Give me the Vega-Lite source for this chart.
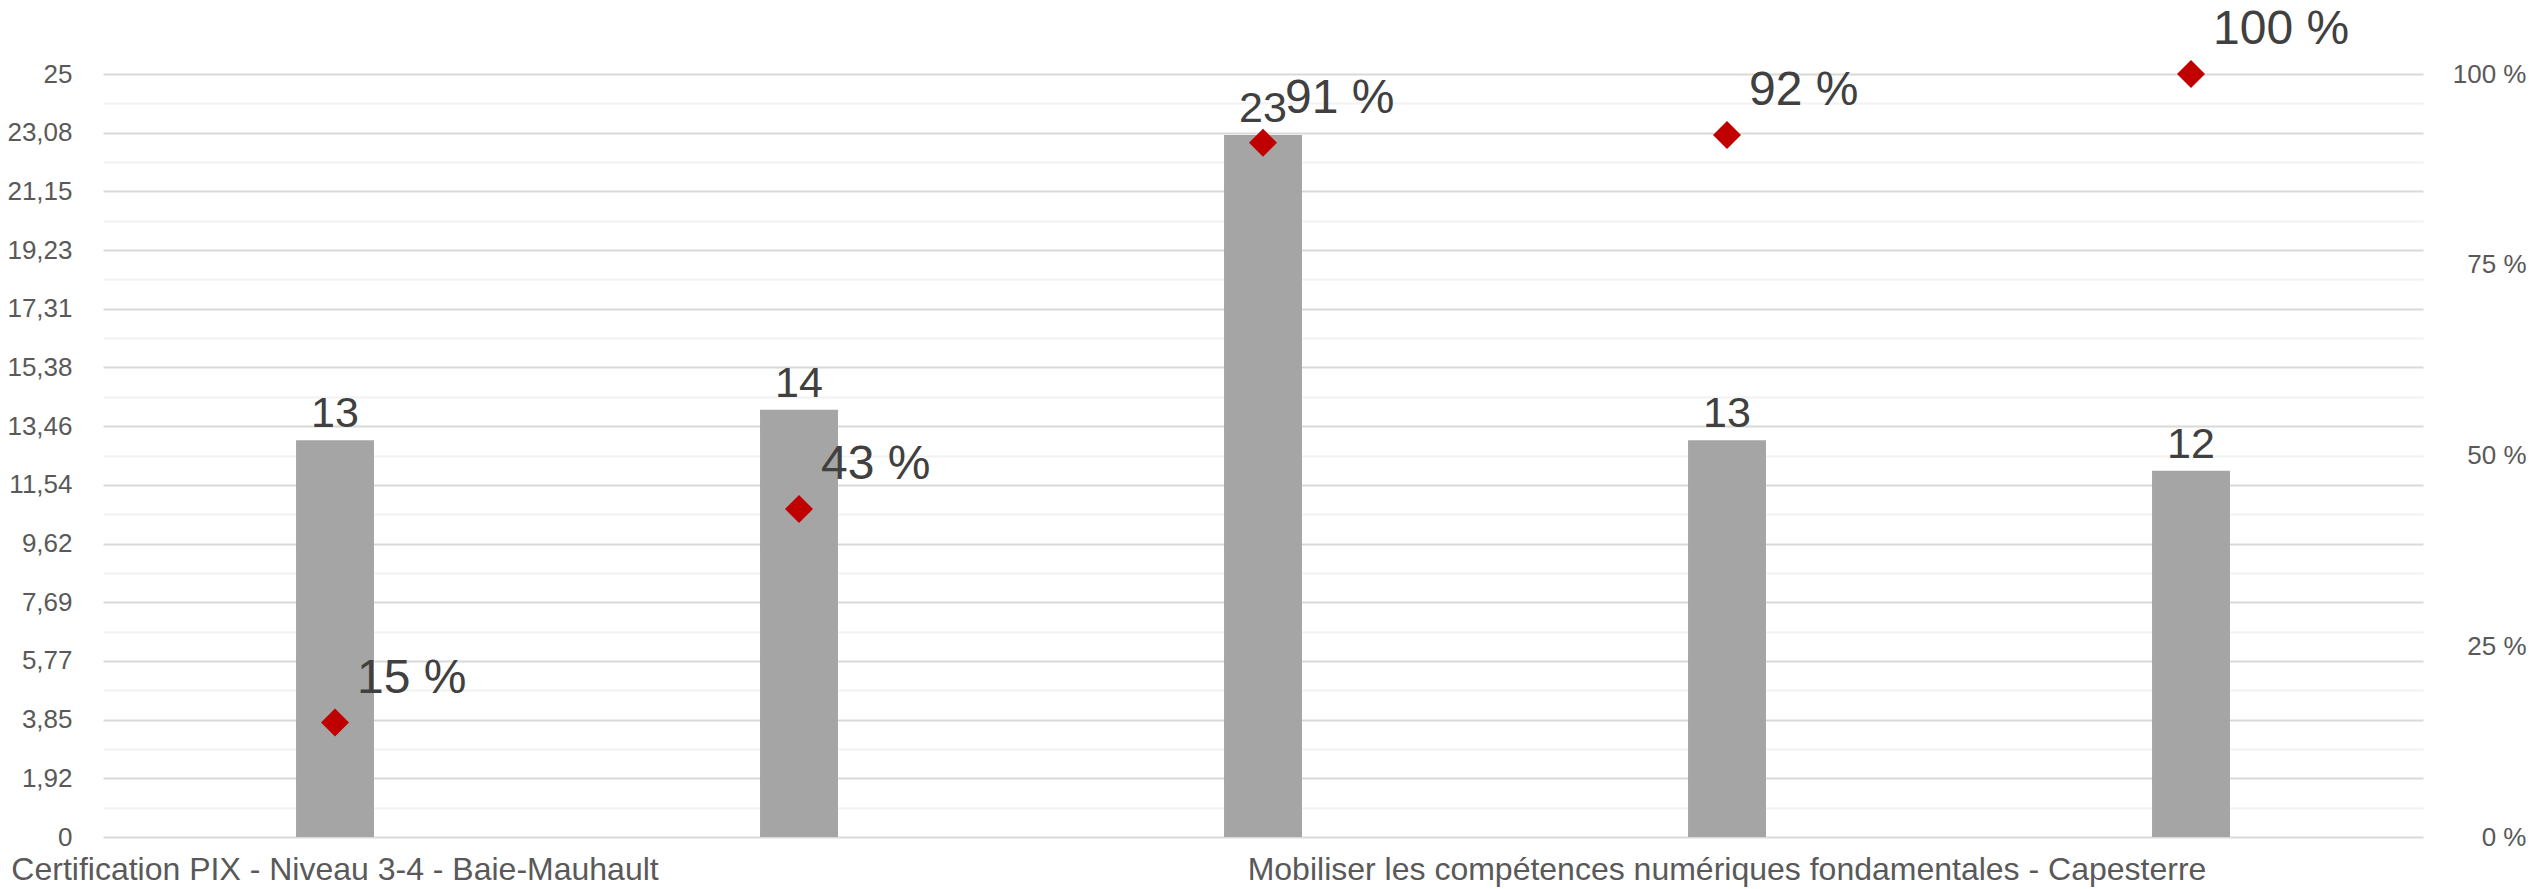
{
  "$schema": "https://vega.github.io/schema/vega-lite/v6.json",
  "width": 2320,
  "height": 763,
  "autosize": {"type": "none"},
  "padding": {"left": 103, "top": 74, "right": 111, "bottom": 52},
  "background": "white",
  "config": {
    "view": {"stroke": null},
    "font": "Liberation Sans",
    "axis": {"tickSize": 0, "ticks": false, "domain": false, "labelFont": "Liberation Sans", "labelColor": "#595959", "labelFontSize": 26, "title": null}
  },
  "data": {
    "values": [
      {"n": 1, "label": "Certification PIX - Niveau 3-4 - Baie-Mauhault", "effectif": 13, "taux": 15},
      {"n": 2, "label": "", "effectif": 14, "taux": 43},
      {"n": 3, "label": "", "effectif": 23, "taux": 91},
      {"n": 4, "label": "Mobiliser les compétences numériques fondamentales - Capesterre", "effectif": 13, "taux": 92},
      {"n": 5, "label": "", "effectif": 12, "taux": 100}
    ]
  },
  "encoding": {
    "x": {"field": "n", "type": "ordinal", "axis": null, "scale": {"paddingInner": 0, "paddingOuter": 0}}
  },
  "layer": [
    {
      "mark": {"type": "bar", "color": "#a5a5a5", "width": {"band": 0.168}},
      "encoding": {
        "y": {
          "field": "effectif", "type": "quantitative",
          "scale": {"domain": [0, 25], "nice": false, "zero": true},
          "axis": {
            "orient": "left",
            "values": [0, 1.923077, 3.846154, 5.769231, 7.692308, 9.615385, 11.538462, 13.461538, 15.384615, 17.307692, 19.230769, 21.153846, 23.076923, 25],
            "labelExpr": "replace(format(datum.value, '.2~f'), '.', ',')",
            "labelPadding": 31,
            "grid": true, "gridColor": "#d9d9d9", "gridWidth": 2
          }
        }
      }
    },
    {
      "mark": {"type": "text", "align": "center", "baseline": "alphabetic", "dy": -13, "fontSize": 43, "color": "#404040"},
      "encoding": {
        "y": {
          "field": "effectif", "type": "quantitative",
          "scale": {"domain": [0, 25], "nice": false, "zero": true},
          "axis": {
            "orient": "left",
            "values": [0.961538, 2.884615, 4.807692, 6.730769, 8.653846, 10.576923, 12.5, 14.423077, 16.346154, 18.269231, 20.192308, 22.115385, 24.038462],
            "labels": false,
            "grid": true, "gridColor": "#f2f2f2", "gridWidth": 2
          }
        },
        "text": {"field": "effectif", "type": "quantitative"}
      }
    },
    {
      "mark": {"type": "text", "align": "center", "baseline": "alphabetic", "dy": 43, "fontSize": 32, "color": "#595959"},
      "encoding": {
        "y": {"datum": 0, "type": "quantitative", "scale": {"domain": [0, 25], "nice": false}, "axis": null},
        "text": {"field": "label", "type": "nominal"}
      }
    },
    {
      "mark": {"type": "point", "shape": "diamond", "filled": true, "size": 784, "color": "#c00000", "opacity": 1},
      "encoding": {
        "y": {
          "field": "taux", "type": "quantitative",
          "scale": {"domain": [0, 100], "nice": false, "zero": true},
          "axis": {
            "orient": "right",
            "values": [0, 25, 50, 75, 100],
            "labelExpr": "datum.value + ' %'",
            "labelAlign": "right",
            "labelPadding": 103,
            "grid": false
          }
        }
      }
    },
    {
      "mark": {"type": "text", "align": "left", "baseline": "alphabetic", "dx": 22, "dy": -30, "fontSize": 48, "color": "#404040", "text": {"expr": "datum.taux + ' %'"}},
      "encoding": {
        "y": {"field": "taux", "type": "quantitative", "scale": {"domain": [0, 100], "nice": false, "zero": true}, "axis": null}
      }
    }
  ],
  "resolve": {"scale": {"y": "independent"}, "axis": {"y": "independent"}}
}
